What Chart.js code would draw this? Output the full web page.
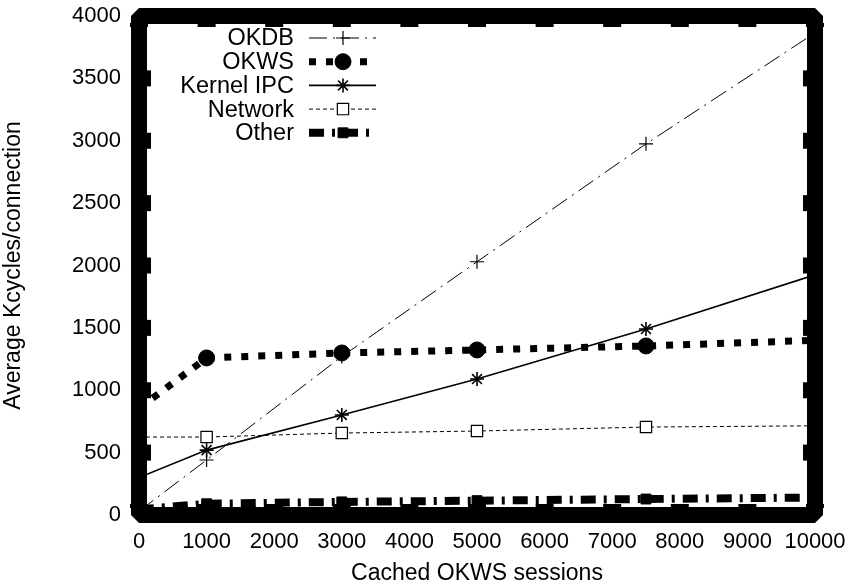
<!DOCTYPE html>
<html>
<head>
<meta charset="utf-8">
<script src="https://cdn.jsdelivr.net/npm/chart.js@4/dist/chart.umd.min.js"></script>
<style>
  html, body { margin: 0; padding: 0; background: #fff; }
  #wrap { width: 852px; height: 587px; }
</style>
</head>
<body>
<div id="wrap"><canvas id="okws_canvas"></canvas></div>
<script>

// cached sessions (x) and Kcycles per connection for each component
var sessions = [0, 1000, 3000, 5000, 7500, 10000];
var okdb_kcycles = [30, 441, 1270, 2030, 2975, 3865];
var okws_kcycles = [855, 1259, 1299, 1323, 1355, 1400];
var ipc_kcycles = [300, 520, 802, 1090, 1491, 1925];
var network_kcycles = [625, 625, 657, 673, 705, 715];
var other_kcycles = [45, 90, 105, 115, 128, 140];

// measured points only (ends of each curve carry no marker)
var has_marker = [false, true, true, true, true, false];

var x_min = 0, x_max = 10000, x_step = 1000;
var y_min = 0, y_max = 4000, y_step = 500;

var label_font = '"Liberation Sans", Arial, Helvetica, sans-serif';

to_points = function(values)
{
  var pts = [];
  for (var i = 0; i < sessions.length; i++)
  {
    pts.push({ x: sessions[i], y: values[i] });
  }
  return pts;
};

marker_sizes = function(r)
{
  return has_marker.map(function(m) { return m ? r : 0; });
};

make_series = function(label, values, style)
{
  return {
    label: label,
    data: to_points(values),
    borderColor: '#000',
    borderWidth: style.width,
    borderDash: style.dash,
    borderCapStyle: 'butt',
    pointStyle: style.point,
    pointRadius: marker_sizes(style.radius),
    pointHoverRadius: 0,
    pointBackgroundColor: style.fill,
    pointBorderColor: '#000',
    pointBorderWidth: style.pointWidth,
    legendRadius: style.radius,
    fill: false,
    tension: 0
  };
};

var datasets = [
  make_series('OKDB', okdb_kcycles, { width: 1, dash: [18, 6, 2, 6], point: 'cross', radius: 7, fill: '#000', pointWidth: 1.2 }),
  make_series('OKWS', okws_kcycles, { width: 7, dash: [7, 10], point: 'circle', radius: 8, fill: '#000', pointWidth: 1 }),
  make_series('Kernel IPC', ipc_kcycles, { width: 1.6, dash: [], point: 'star', radius: 7, fill: '#000', pointWidth: 1.6 }),
  make_series('Network', network_kcycles, { width: 1, dash: [4, 3], point: 'rect', radius: 8, fill: '#fff', pointWidth: 1.2 }),
  make_series('Other', other_kcycles, { width: 8, dash: [15, 8, 3, 8], point: 'rect', radius: 7, fill: '#000', pointWidth: 1 })
];

// thick gnuplot style frame with inward tick marks
var frame_plugin = {
  id: 'frame_plugin',
  afterDatasetsDraw: function(chart)
  {
    var a = chart.chartArea;
    var ctx = chart.ctx;
    var xs = chart.scales.x;
    var ys = chart.scales.y;

    ctx.save();
    ctx.strokeStyle = '#000';
    ctx.fillStyle = '#000';
    ctx.lineWidth = 16;
    ctx.lineJoin = 'bevel';
    ctx.setLineDash([]);
    ctx.strokeRect(a.left, a.top, a.right - a.left, a.bottom - a.top);

    ys.ticks.forEach(function(t)
    {
      var py = ys.getPixelForValue(t.value);
      ctx.fillRect(a.left + 7, py - 8, 5, 16);
      ctx.fillRect(a.right - 12, py - 8, 5, 16);
    });

    xs.ticks.forEach(function(t)
    {
      var px = xs.getPixelForValue(t.value);
      ctx.fillRect(px - 9, a.top + 7, 18, 4);
      ctx.fillRect(px - 9, a.bottom - 11, 18, 4);
    });
    ctx.restore();
  }
};

// key in the upper left: label right aligned, sample line to its right
var key_plugin = {
  id: 'key_plugin',
  afterDraw: function(chart)
  {
    var ctx = chart.ctx;
    var a = chart.chartArea;
    var text_right = a.left + 155;
    var line_start = a.left + 170;
    var line_end = a.left + 237;
    var mark_x = a.left + 204;

    ctx.save();
    ctx.font = '23.5px ' + label_font;
    ctx.textAlign = 'right';
    ctx.textBaseline = 'middle';

    chart.data.datasets.forEach(function(ds, i)
    {
      var y = a.top + 22 + i * 23.7;

      ctx.fillStyle = '#000';
      ctx.fillText(ds.label, text_right, y + 1);

      ctx.beginPath();
      ctx.setLineDash(ds.borderDash);
      ctx.lineCap = 'butt';
      ctx.lineWidth = ds.borderWidth;
      ctx.strokeStyle = ds.borderColor;
      ctx.moveTo(line_start, y);
      ctx.lineTo(line_end, y);
      ctx.stroke();
      ctx.setLineDash([]);

      ctx.fillStyle = ds.pointBackgroundColor;
      ctx.strokeStyle = ds.pointBorderColor;
      ctx.lineWidth = ds.pointBorderWidth;
      Chart.helpers.drawPoint(ctx, {
        pointStyle: ds.pointStyle,
        radius: ds.legendRadius,
        rotation: 0,
        borderWidth: ds.pointBorderWidth
      }, mark_x, y);
    });
    ctx.restore();
  }
};

plain_number = function(value)
{
  return String(value);
};

var okws_chart = document.getElementById('okws_canvas').getContext('2d');

new Chart(okws_chart, {
  type: 'line',
  data: { datasets: datasets },
  plugins: [frame_plugin, key_plugin],
  options: {
    responsive: true,
    maintainAspectRatio: false,
    animation: false,
    events: [],
    layout: { padding: { left: 0, top: 16, right: 37, bottom: 0 } },
    plugins: {
      legend: { display: false },
      tooltip: { enabled: false }
    },
    scales: {
      x: {
        type: 'linear',
        min: x_min,
        max: x_max,
        afterFit: function(s) { s.height = 72; s.paddingLeft = 0; s.paddingRight = 0; },
        ticks: { stepSize: x_step, color: '#000', padding: 14, maxRotation: 0, autoSkip: false,
                 callback: plain_number, font: { family: label_font, size: 22 } },
        grid: { display: false, drawTicks: false },
        border: { display: false },
        title: { display: true, text: 'Cached OKWS sessions', color: '#000',
                 padding: { top: 0, bottom: 0 }, font: { family: label_font, size: 23 } }
      },
      y: {
        type: 'linear',
        min: y_min,
        max: y_max,
        afterFit: function(s) { s.width = 139; s.paddingTop = 0; s.paddingBottom = 0; },
        ticks: { stepSize: y_step, color: '#000', padding: 18,
                 callback: plain_number, font: { family: label_font, size: 22 } },
        grid: { display: false, drawTicks: false },
        border: { display: false },
        title: { display: true, text: 'Average Kcycles/connection', color: '#000',
                 padding: { top: 0, bottom: 0 }, font: { family: label_font, size: 23 } }
      }
    }
  }
});

</script>
</body>
</html>
